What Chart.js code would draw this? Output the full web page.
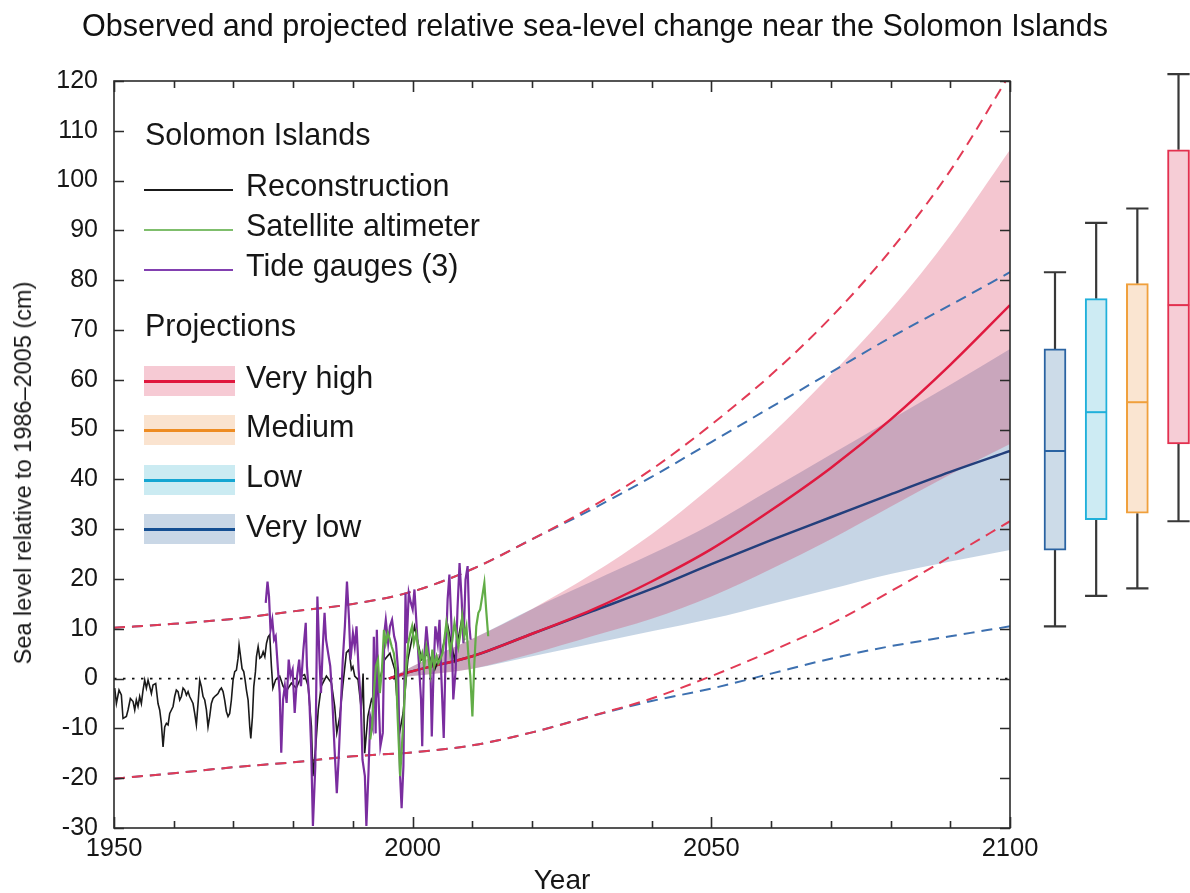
<!DOCTYPE html>
<html><head><meta charset="utf-8">
<script src="https://cdn.jsdelivr.net/npm/chart.js@4.4.1/dist/chart.umd.min.js"></script>
<style>
html,body{margin:0;padding:0;background:#fff;}
#wrap{position:relative;width:1190px;height:893px;overflow:hidden;font-family:'Liberation Sans',Arial,Helvetica,sans-serif;}
#c1{position:absolute;left:0;top:0;}
#c2{position:absolute;left:1010px;top:0;}
.lg{position:absolute;font-size:30.5px;line-height:30.5px;color:#161616;white-space:nowrap;}
.sw{position:absolute;}
#ytitle{position:absolute;left:23px;top:473px;font-size:23.5px;line-height:24px;color:#161616;white-space:nowrap;transform:translate(-50%,-50%) rotate(-90deg);}
</style></head><body>
<div id="wrap">
<canvas id="c1" width="1190" height="893"></canvas>
<canvas id="c2" width="180" height="893"></canvas>
<div id="legend"></div>
<div id="ytitle"></div>
</div>
<script>
// ---------------- DATA ----------------
const titleText = 'Observed and projected relative sea-level change near the Solomon Islands';
const yTitle = 'Sea level relative to 1986\u20132005 (cm)';
const xTitle = 'Year';

// Reconstruction (black)
const recYears = [1950.12,1950.40,1950.84,1951.23,1951.51,1952.07,1952.35,1952.74,1953.19,1953.47,1953.74,1954.02,1954.30,1954.58,1954.86,1955.14,1955.42,1955.70,1955.98,1956.26,1956.53,1956.98,1957.37,1957.65,1957.93,1958.21,1958.49,1958.77,1959.05,1959.33,1959.61,1959.89,1960.16,1960.44,1960.72,1961.00,1961.28,1961.56,1961.84,1962.12,1962.40,1962.67,1962.95,1963.23,1963.51,1963.79,1964.07,1964.35,1964.63,1964.91,1965.19,1965.47,1965.74,1966.02,1966.30,1966.58,1966.86,1967.14,1967.42,1967.70,1967.98,1968.26,1968.53,1968.81,1969.09,1969.37,1969.65,1969.93,1970.21,1970.49,1970.77,1970.94,1971.16,1971.44,1971.72,1971.95,1972.17,1972.45,1972.73,1972.90,1973.18,1973.40,1973.68,1973.85,1974.13,1974.41,1974.69,1974.97,1975.25,1975.53,1975.81,1976.07,1976.35,1976.6,1977.07,1977.74,1978.3,1978.86,1979.7,1980.5,1981.4,1981.9,1982.5,1983.05,1983.3,1983.77,1984.2,1984.7,1985.56,1986.4,1986.95,1987.3,1987.8,1988.3,1988.9,1989.35,1989.74,1990.0,1990.3,1990.85,1991.4,1991.7,1991.97,1992.5,1993.1,1993.65,1994.5,1995.3,1996.2,1997.0,1997.8,1998.4,1999.2,2000.3,2001.5,2002.6,2003.7,2004.8,2005.9,2007.0,2008.2,2008.7];
const recVals = [-1.9,-5.0,-2.3,-3.3,-8.0,-7.6,-6.3,-4.0,-4.6,-6.3,-4.3,-5.6,-3.6,-5.0,-2.3,-0.3,-1.9,-0.3,-1.6,-3.0,-1.3,-1.0,-5.0,-6.3,-9.0,-13.7,-9.7,-9.0,-9.3,-7.0,-6.3,-5.6,-3.6,-2.3,-2.6,-4.3,-3.6,-1.9,-2.3,-3.3,-2.6,-3.6,-4.3,-5.0,-7.0,-9.3,-5.0,-0.3,-1.6,-3.6,-4.3,-6.3,-9.7,-7.6,-5.0,-4.0,-3.6,-3.3,-3.0,-2.3,-1.9,-2.6,-4.3,-6.6,-7.6,-7.0,-4.3,-0.3,1.4,1.7,4.1,6.7,4.7,2.0,1.4,-0.3,-2.3,-4.3,-9.7,-12.0,-7.6,-1.6,1.4,4.4,6.4,4.1,4.4,5.4,4.4,7.1,8.4,8.8,2.5,-1.9,-0.2,0.5,-1.5,-2.5,-0.9,-1.9,0.5,0.8,-1.5,-9.6,-19.6,-13.6,-6.2,-1.5,0.5,-0.9,-5.6,-10.9,-7.6,-1.5,5.2,5.8,1.8,2.4,0.5,-0.2,-6.2,1.0,-15.0,-7.6,-4.2,-5.6,-0.2,3.8,5.1,1.8,-10.9,-6.9,3.8,10.5,3.8,5.1,1.8,5.1,10.5,3.8,11.8,7.8];

// Tide gauges (purple)
const tideYears = [1975.4,1975.7,1975.95,1976.2,1976.5,1976.8,1977.07,1977.45,1977.74,1978.0,1978.3,1978.6,1978.9,1979.25,1979.55,1979.9,1980.25,1980.65,1981.0,1981.3,1981.7,1982.1,1982.3,1982.7,1983.0,1983.3,1983.7,1984.05,1984.4,1984.65,1984.95,1985.25,1985.5,1985.85,1986.2,1986.5,1986.9,1987.3,1987.6,1988.0,1988.3,1988.65,1989.0,1989.35,1989.6,1990.0,1990.3,1990.6,1990.95,1991.3,1991.6,1992.0,1992.25,1992.6,1992.9,1993.3,1993.5,1993.8,1994.0,1994.3,1994.6,1995.0,1995.25,1995.5,1995.9,1996.2,1996.55,1996.9,1997.2,1997.55,1997.9,1998.15,1998.45,1998.8,1999.0,1999.35,1999.7,2000.0,2000.3,2000.7,2001.0,2001.4,2001.6,2001.9,2002.3,2002.6,2003.0,2003.2,2003.5,2003.8,2004.2,2004.5,2004.8,2005.2,2005.5,2005.85,2006.15,2006.5,2006.8,2007.2,2007.5,2007.85,2008.2,2008.5,2008.85,2009.2,2009.5,2009.7];
const tideVals = [15.2,19.5,16.5,9.8,11.8,7.8,8.5,1.8,-2.9,-14.9,-4.2,-1.5,-4.9,3.8,0.5,1.8,-6.9,0.5,3.8,-1.5,5.8,11.2,2.5,-4.2,-13.6,-29.6,-17.6,16.5,3.8,-2.9,6.4,13.2,7.8,5.1,2.5,-2.9,-13.6,-23.0,-16.3,-4.9,3.8,10.5,19.5,11.8,3.8,9.1,6.4,10.5,1.8,-4.2,-16.3,-19.6,-29.6,-19.0,-7.6,-9.7,8.4,-11.0,9.8,-4.2,-13.6,-10.9,9.1,11.8,7.1,10.5,11.8,8.5,7.1,1.8,-19.6,-26.0,-17.6,17.1,7.1,17.2,15.2,13.9,17.9,9.8,3.8,-4.2,-13.6,3.8,10.5,6.4,0.5,-11.6,1.8,10.5,7.1,11.8,0.5,-11.9,3.8,15.9,20.9,10.5,-4.2,1.8,13.9,23.2,15.9,7.1,19.9,22.6,10.5,7.8];

// Satellite altimeter (green)
const satYears = [1992.9,1993.2,1993.5,1993.85,1994.2,1994.5,1994.85,1995.2,1995.5,1995.85,1996.2,1996.5,1996.85,1997.2,1997.5,1997.9,1998.2,1998.6,1998.9,1999.25,1999.6,1999.9,2000.2,2000.6,2000.9,2001.3,2001.6,2001.95,2002.3,2002.6,2002.95,2003.3,2003.6,2004.0,2004.3,2004.6,2005.0,2005.3,2005.65,2006.0,2006.3,2006.65,2007.0,2007.3,2007.65,2008.0,2008.3,2008.65,2009.0,2009.3,2009.65,2010.0,2010.3,2010.65,2011.0,2011.3,2011.65,2012.0,2012.3,2012.65];
const satVals = [-12.2,-9.6,-2.9,2.5,3.8,-2.9,1.8,9.8,7.1,9.1,7.8,6.4,5.1,1.8,-8.2,-19.6,-13.6,-4.9,1.8,7.1,9.1,10.5,7.1,9.1,6.4,3.8,5.1,2.5,6.4,4.5,1.1,5.8,2.5,4.5,3.1,3.8,5.1,7.8,11.2,8.5,5.1,7.8,11.2,9.1,6.4,9.1,12.5,8.5,10.5,5.1,0.5,-7.6,2.5,10.5,13.2,13.9,16.5,19.2,13.9,8.5];

// Projections (bands and medians)
const projYears = [1996,2000,2010,2020,2030,2040,2050,2060,2070,2080,2090,2100];
const vhMed  = [0,1.5,4.5,9,13.8,19.5,26,33.8,42.3,52,63,75];
const vhHigh = [0,2.5,8,14,21,29,38.5,49,61,74,89,106.2];
const vhLow  = [0,0.5,2,5,8.5,12,16.5,22,28,34.5,41,47.1];
const vlMed  = [0,1.5,4.5,9,13.5,18,23,27.8,32.4,37,41.5,45.7];
const vlHigh = [0,2.5,8,14,19.5,25,31,38,45,52,59,66.2];
const vlLow  = [0,0.5,2,4.5,7,9.5,12,15,18,21,23.5,25.8];

// Dashed (likely range extremes)
const dashYears = [1950,1960,1970,1980,1990,2000,2010,2020,2030,2040,2050,2060,2070,2080,2090,2100];
const vhDashHigh = [10.2,11,12,13.5,15,17.5,22,28,34.5,42,51,61,72.5,86,102,121.4];
const vlDashHigh = [10.2,11,12,13.5,15,17.5,22,28,34,40.5,47.5,54.5,61.5,68.5,75,81.6];
const vhDashLow  = [-20.1,-19,-17.8,-16.8,-15.6,-14.8,-13.4,-10.8,-7.5,-4,0.5,5.5,11,17.5,24.5,31.6];
const vlDashLow  = [-20.1,-19,-17.8,-16.8,-15.6,-14.8,-13.4,-10.8,-7.5,-4.5,-2,1,4,6.5,8.5,10.5];

const zeroYears = [1950,2100];
const zeroVals = [0,0];

// Box plots at 2100 (Very low, Low, Medium, Very high)
const boxNames = ['Very low','Low','Medium','Very high'];
const boxPos  = [1,2,3,4];
const boxMin  = [10.5,16.6,18.1,31.6];
const boxQ1   = [25.8,31.9,33.2,47.1];
const boxMed  = [45.7,53.5,55.5,75.0];
const boxQ3   = [66.2,76.3,79.3,106.2];
const boxMax  = [81.6,91.5,94.4,121.4];

// ---------------- STYLE ----------------
const FONT = "'Liberation Sans', Arial, Helvetica, sans-serif";
Chart.defaults.font.family = FONT;
Chart.defaults.color = '#161616';
const C = {
  black:'#1a1a1a', purple:'#7a2d9f', green:'#62ad47',
  red:'#e0193f', redDash:'#e23a55', redFill:'rgba(211,27,67,0.25)',
  blue:'#233f7c', blueDash:'#3d70b0', blueFill:'rgba(27,87,151,0.25)',
  boxFill:['#ccdbe8','#cdebf3','#fae5d1','#f6cdd6'],
  boxLine:['#2a63a2','#20b0da','#f0a03c','#e3304f'],
  whisker:'#383838'
};
const zip = (xs, ys) => xs.map((x, i) => ({x, y: ys[i]}));
document.getElementById('ytitle').textContent = yTitle;

// ---------------- MAIN CHART ----------------
const frameTicks = {
  id: 'frameTicks',
  afterDatasetsDraw(chart) {
    const {ctx, chartArea: a, scales: {x, y}} = chart;
    ctx.save();
    ctx.strokeStyle = '#2b2b2b';
    ctx.lineWidth = 1.6;
    ctx.beginPath();
    x.ticks.forEach(t => {
      const px = Math.round(x.getPixelForValue(t.value)) + 0.5;
      const len = t.value % 50 === 0 ? 11 : 7;
      ctx.moveTo(px, a.bottom); ctx.lineTo(px, a.bottom - len);
      ctx.moveTo(px, a.top); ctx.lineTo(px, a.top + len);
    });
    y.ticks.forEach(t => {
      const py = Math.round(y.getPixelForValue(t.value)) + 0.5;
      ctx.moveTo(a.left, py); ctx.lineTo(a.left + 10, py);
      ctx.moveTo(a.right, py); ctx.lineTo(a.right - 10, py);
    });
    ctx.stroke();
    ctx.strokeRect(a.left, a.top, a.right - a.left, a.bottom - a.top);
    ctx.restore();
  }
};

const lineDS = (label, data, color, width, order, extra) => Object.assign({
  type: 'line', label, data, borderColor: color, borderWidth: width,
  pointRadius: 0, fill: false, tension: 0, order
}, extra || {});

const datasets = [
  lineDS('vlLow', zip(projYears, vlLow), 'rgba(0,0,0,0)', 0, 100, {cubicInterpolationMode:'monotone'}),
  lineDS('vlHigh', zip(projYears, vlHigh), 'rgba(0,0,0,0)', 0, 99, {cubicInterpolationMode:'monotone', fill: 0, backgroundColor: C.blueFill}),
  lineDS('vhLow', zip(projYears, vhLow), 'rgba(0,0,0,0)', 0, 98, {cubicInterpolationMode:'monotone'}),
  lineDS('vhHigh', zip(projYears, vhHigh), 'rgba(0,0,0,0)', 0, 97, {cubicInterpolationMode:'monotone', fill: 2, backgroundColor: C.redFill}),
  lineDS('vlDashHigh', zip(dashYears, vlDashHigh), C.blueDash, 2, 90, {cubicInterpolationMode:'monotone', borderDash:[11,7]}),
  lineDS('vlDashLow', zip(dashYears, vlDashLow), C.blueDash, 2, 89, {cubicInterpolationMode:'monotone', borderDash:[11,7]}),
  lineDS('vhDashHigh', zip(dashYears, vhDashHigh), C.redDash, 2, 88, {cubicInterpolationMode:'monotone', borderDash:[11,7]}),
  lineDS('vhDashLow', zip(dashYears, vhDashLow), C.redDash, 2, 87, {cubicInterpolationMode:'monotone', borderDash:[11,7]}),
  lineDS('zero', zip(zeroYears, zeroVals), '#111', 1.6, 80, {borderDash:[2.5,6.5]}),
  lineDS('vlMed', zip(projYears, vlMed), C.blue, 2.5, 70, {cubicInterpolationMode:'monotone'}),
  lineDS('vhMed', zip(projYears, vhMed), C.red, 2.5, 69, {cubicInterpolationMode:'monotone'}),
  lineDS('Reconstruction', zip(recYears, recVals), C.black, 1.6, 30),
  lineDS('Tide gauges (3)', zip(tideYears, tideVals), C.purple, 2.2, 20),
  lineDS('Satellite altimeter', zip(satYears, satVals), C.green, 2.2, 10)
];

new Chart(document.getElementById('c1'), {
  type: 'line',
  data: { datasets },
  options: {
    responsive: false, animation: false, devicePixelRatio: 1,
    layout: { padding: 0 },
    plugins: {
      legend: { display: false }, tooltip: { enabled: false },
      title: { display: true, text: titleText, font: { size: 30.5, weight: 'normal' }, color: '#111', padding: { top: 9, bottom: 35.4 } }
    },
    scales: {
      x: {
        type: 'linear', position: 'bottom', min: 1950, max: 2100,
        grid: { display: false, drawTicks: false }, border: { display: false },
        ticks: { stepSize: 10, autoSkip: false, maxRotation: 0, padding: 6, font: { size: 25.5 }, color: '#161616',
          callback: v => (v % 50 === 0 ? String(v) : '') },
        title: { display: true, text: xTitle, font: { size: 28, lineHeight: 0.85 }, color: '#161616', padding: { top: 0, bottom: 0 } },
        afterFit: s => { s.height = 65; }
      },
      y: {
        type: 'linear', position: 'left', min: -30, max: 120,
        grid: { display: false, drawTicks: false }, border: { display: false },
        ticks: { stepSize: 10, autoSkip: false, padding: 16, font: { size: 25 }, color: '#161616' },
        title: { display: false },
        afterFit: s => { s.width = 114; }
      },
      y2: {
        type: 'linear', position: 'right', min: -30, max: 120, display: true,
        grid: { display: false, drawTicks: false }, border: { display: false },
        ticks: { display: false },
        afterFit: s => { s.width = 180; }
      }
    }
  },
  plugins: [frameTicks]
});

// ---------------- BOX PLOT CHART ----------------
const CAP = 0.27;   // half cap width in box-spacing units
const HALF = 0.26;  // half box width in box-spacing units
const whiskerPts = [];
boxPos.forEach((p, i) => {
  whiskerPts.push({x:p, y:boxMin[i]}, {x:p, y:boxQ1[i]}, {x:p, y:null});
  whiskerPts.push({x:p, y:boxQ3[i]}, {x:p, y:boxMax[i]}, {x:p, y:null});
  whiskerPts.push({x:p-CAP, y:boxMin[i]}, {x:p+CAP, y:boxMin[i]}, {x:p, y:null});
  whiskerPts.push({x:p-CAP, y:boxMax[i]}, {x:p+CAP, y:boxMax[i]}, {x:p, y:null});
});
const boxDatasets = [
  { type:'line', data: whiskerPts, borderColor: C.whisker, borderWidth: 2.2, pointRadius: 0, spanGaps: false, clip: false, order: 5 },
  { type:'bar', data: boxPos.map((p, i) => ({x: p, y: [boxQ1[i], boxQ3[i]]})),
    backgroundColor: C.boxFill, borderColor: C.boxLine, borderWidth: 2, borderSkipped: false,
    barThickness: 22, grouped: false, clip: false, order: 4 }
];
boxPos.forEach((p, i) => {
  boxDatasets.push({ type:'line', data: [{x:p-HALF, y:boxMed[i]}, {x:p+HALF, y:boxMed[i]}],
    borderColor: C.boxLine[i], borderWidth: 2, pointRadius: 0, clip: false, order: 1 });
});

new Chart(document.getElementById('c2'), {
  type: 'bar',
  data: { datasets: boxDatasets },
  options: {
    responsive: false, animation: false, devicePixelRatio: 1,
    layout: { padding: { top: 81, bottom: 65, left: 0, right: 0 } },
    plugins: { legend: { display: false }, tooltip: { enabled: false }, title: { display: false } },
    scales: {
      x: { type: 'linear', display: false, offset: false, grace: 0, min: -0.093, max: 4.279 },
      y: { type: 'linear', display: false, min: -30, max: 120 }
    }
  }
});

// ---------------- LEGEND (HTML) ----------------
const legendHeaders = [
  {text: 'Solomon Islands', base: 145},
  {text: 'Projections', base: 336}
];
const obsLegend = [
  {text: 'Reconstruction', color: C.black, width: 1.6, base: 196, lineY: 190},
  {text: 'Satellite altimeter', color: '#7fbe6c', width: 2.2, base: 236, lineY: 230},
  {text: 'Tide gauges (3)', color: '#8240b0', width: 2, base: 276, lineY: 270}
];
const projLegend = [
  {text: 'Very high', fill: '#f6cad4', line: '#e0173d', top: 366, base: 388},
  {text: 'Medium', fill: '#fae3cf', line: '#ee8c22', top: 415, base: 437},
  {text: 'Low', fill: '#cbebf2', line: '#14a6d2', top: 465, base: 487},
  {text: 'Very low', fill: '#c9d7e6', line: '#154f92', top: 514, base: 537}
];
const lg = document.getElementById('legend');
const BASE_OFF = 25.8;
function addText(text, x, base) {
  const d = document.createElement('div');
  d.className = 'lg'; d.textContent = text;
  d.style.left = x + 'px'; d.style.top = (base - BASE_OFF) + 'px';
  lg.appendChild(d);
}
function addRect(x, y, w, h, color) {
  const d = document.createElement('div');
  d.className = 'sw';
  Object.assign(d.style, {left: x + 'px', top: y + 'px', width: w + 'px', height: h + 'px', background: color});
  lg.appendChild(d);
}
legendHeaders.forEach(h => addText(h.text, 145, h.base));
obsLegend.forEach(o => { addRect(144, o.lineY - o.width / 2, 89, o.width, o.color); addText(o.text, 246, o.base); });
projLegend.forEach(p => { addRect(144, p.top, 91, 30, p.fill); addRect(144, p.top + 13.5, 91, 3, p.line); addText(p.text, 246, p.base); });
</script>
</body></html>
